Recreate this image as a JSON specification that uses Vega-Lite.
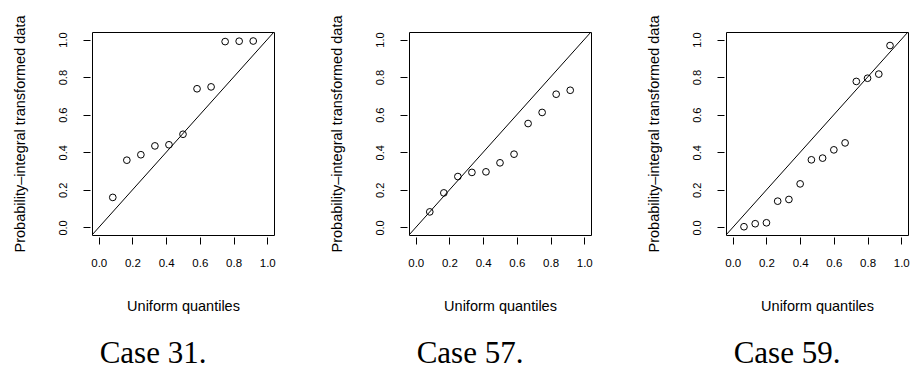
{
  "$schema": "https://vega.github.io/schema/vega-lite/v6.json",
  "background": "white",
  "padding": {"left": 11, "top": 14, "right": 0, "bottom": 0},
  "spacing": 52,
  "datasets": {
    "pit": [
      {"case": "Case 31.", "q": 0.0833, "p": 0.160},
      {"case": "Case 31.", "q": 0.1667, "p": 0.358},
      {"case": "Case 31.", "q": 0.2500, "p": 0.387},
      {"case": "Case 31.", "q": 0.3333, "p": 0.434},
      {"case": "Case 31.", "q": 0.4167, "p": 0.440},
      {"case": "Case 31.", "q": 0.5000, "p": 0.496},
      {"case": "Case 31.", "q": 0.5833, "p": 0.738},
      {"case": "Case 31.", "q": 0.6667, "p": 0.748},
      {"case": "Case 31.", "q": 0.7500, "p": 0.989},
      {"case": "Case 31.", "q": 0.8333, "p": 0.991},
      {"case": "Case 31.", "q": 0.9167, "p": 0.992},
      {"case": "Case 57.", "q": 0.0833, "p": 0.083},
      {"case": "Case 57.", "q": 0.1667, "p": 0.184},
      {"case": "Case 57.", "q": 0.2500, "p": 0.271},
      {"case": "Case 57.", "q": 0.3333, "p": 0.293},
      {"case": "Case 57.", "q": 0.4167, "p": 0.296},
      {"case": "Case 57.", "q": 0.5000, "p": 0.344},
      {"case": "Case 57.", "q": 0.5833, "p": 0.390},
      {"case": "Case 57.", "q": 0.6667, "p": 0.553},
      {"case": "Case 57.", "q": 0.7500, "p": 0.612},
      {"case": "Case 57.", "q": 0.8333, "p": 0.709},
      {"case": "Case 57.", "q": 0.9167, "p": 0.730},
      {"case": "Case 59.", "q": 0.0667, "p": 0.004},
      {"case": "Case 59.", "q": 0.1333, "p": 0.020},
      {"case": "Case 59.", "q": 0.2000, "p": 0.025},
      {"case": "Case 59.", "q": 0.2667, "p": 0.140},
      {"case": "Case 59.", "q": 0.3333, "p": 0.149},
      {"case": "Case 59.", "q": 0.4000, "p": 0.232},
      {"case": "Case 59.", "q": 0.4667, "p": 0.360},
      {"case": "Case 59.", "q": 0.5333, "p": 0.369},
      {"case": "Case 59.", "q": 0.6000, "p": 0.413},
      {"case": "Case 59.", "q": 0.6667, "p": 0.450},
      {"case": "Case 59.", "q": 0.7333, "p": 0.777},
      {"case": "Case 59.", "q": 0.8000, "p": 0.794},
      {"case": "Case 59.", "q": 0.8667, "p": 0.816},
      {"case": "Case 59.", "q": 0.9333, "p": 0.968}
    ],
    "diagonal": [
      {"q": -0.04, "p": -0.04},
      {"q": 1.04, "p": 1.04}
    ]
  },
  "config": {
    "font": "Liberation Sans",
    "view": {"stroke": "black", "strokeWidth": 1},
    "axis": {
      "grid": false,
      "domain": false,
      "tickColor": "black",
      "tickSize": 7,
      "offset": 2,
      "labelColor": "black",
      "labelFont": "Liberation Sans",
      "labelFontSize": 11,
      "titleColor": "black",
      "titleFont": "Liberation Sans",
      "titleFontSize": 14.5,
      "titleFontWeight": "normal",
      "values": [0, 0.2, 0.4, 0.6, 0.8, 1],
      "format": ".1f"
    },
    "axisX": {"labelPadding": 13, "titlePadding": 31, "labelFontSize": 11.5},
    "axisY": {"labelAngle": 270, "labelPadding": 15, "titlePadding": 30},
    "title": {
      "orient": "bottom",
      "font": "Liberation Serif",
      "fontSize": 31,
      "fontWeight": "normal",
      "color": "black",
      "anchor": "middle",
      "frame": "group",
      "dx": -30,
      "offset": 26
    }
  },
  "hconcat": [
    {
      "title": "Case 31.",
      "width": 182,
      "height": 203,
      "layer": [
        {
          "data": {"name": "diagonal"},
          "mark": {"type": "line", "color": "black", "strokeWidth": 1, "clip": true},
          "encoding": {
            "x": {"field": "q", "type": "quantitative", "scale": {"domain": [-0.04, 1.04], "nice": false, "zero": false}, "title": "Uniform quantiles"},
            "y": {"field": "p", "type": "quantitative", "scale": {"domain": [-0.04, 1.04], "nice": false, "zero": false}, "title": "Probability–integral transformed data"}
          }
        },
        {
          "data": {"name": "pit"},
          "transform": [{"filter": "datum.case === 'Case 31.'"}],
          "mark": {"type": "point", "shape": "circle", "filled": false, "stroke": "black", "strokeWidth": 1, "size": 45, "opacity": 1},
          "encoding": {
            "x": {"field": "q", "type": "quantitative"},
            "y": {"field": "p", "type": "quantitative"}
          }
        }
      ]
    },
    {
      "title": "Case 57.",
      "width": 182,
      "height": 203,
      "layer": [
        {
          "data": {"name": "diagonal"},
          "mark": {"type": "line", "color": "black", "strokeWidth": 1, "clip": true},
          "encoding": {
            "x": {"field": "q", "type": "quantitative", "scale": {"domain": [-0.04, 1.04], "nice": false, "zero": false}, "title": "Uniform quantiles"},
            "y": {"field": "p", "type": "quantitative", "scale": {"domain": [-0.04, 1.04], "nice": false, "zero": false}, "title": "Probability–integral transformed data"}
          }
        },
        {
          "data": {"name": "pit"},
          "transform": [{"filter": "datum.case === 'Case 57.'"}],
          "mark": {"type": "point", "shape": "circle", "filled": false, "stroke": "black", "strokeWidth": 1, "size": 45, "opacity": 1},
          "encoding": {
            "x": {"field": "q", "type": "quantitative"},
            "y": {"field": "p", "type": "quantitative"}
          }
        }
      ]
    },
    {
      "title": "Case 59.",
      "width": 182,
      "height": 203,
      "layer": [
        {
          "data": {"name": "diagonal"},
          "mark": {"type": "line", "color": "black", "strokeWidth": 1, "clip": true},
          "encoding": {
            "x": {"field": "q", "type": "quantitative", "scale": {"domain": [-0.04, 1.04], "nice": false, "zero": false}, "title": "Uniform quantiles"},
            "y": {"field": "p", "type": "quantitative", "scale": {"domain": [-0.04, 1.04], "nice": false, "zero": false}, "title": "Probability–integral transformed data"}
          }
        },
        {
          "data": {"name": "pit"},
          "transform": [{"filter": "datum.case === 'Case 59.'"}],
          "mark": {"type": "point", "shape": "circle", "filled": false, "stroke": "black", "strokeWidth": 1, "size": 45, "opacity": 1},
          "encoding": {
            "x": {"field": "q", "type": "quantitative"},
            "y": {"field": "p", "type": "quantitative"}
          }
        }
      ]
    }
  ]
}
